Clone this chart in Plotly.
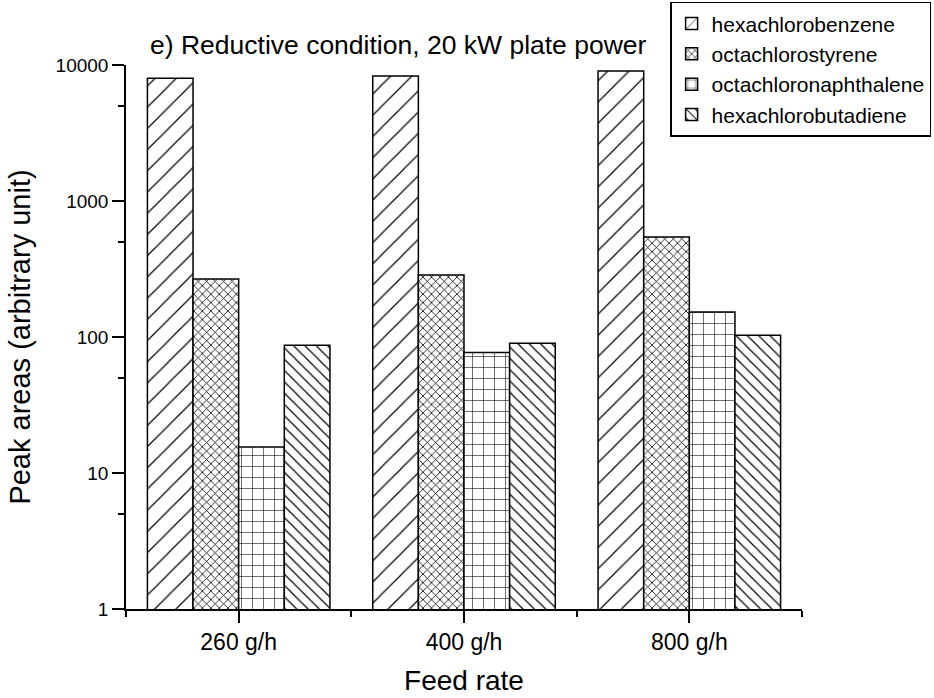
import plotly.graph_objects as go

categories = ["260 g/h", "400 g/h", "800 g/h"]
series_names = ["hexachlorobenzene", "octachlorostyrene", "octachloronaphthalene", "hexachlorobutadiene"]
hexachlorobenzene = [8000, 8300, 9050]
octachlorostyrene = [267, 286, 543]
octachloronaphthalene = [15.5, 77, 153]
hexachlorobutadiene = [87, 90, 103]
y_tick_vals = [1, 10, 100, 1000, 10000]
y_tick_text = ["1", "10", "100", "1000", "10000"]
y_minor_vals = [5, 50, 500, 5000]

values = [hexachlorobenzene, octachlorostyrene, octachloronaphthalene, hexachlorobutadiene]
patterns = [
    dict(shape="/", size=15, solidity=0.08),
    dict(shape="x", size=6, solidity=0.25),
    dict(shape="+", size=11, solidity=0.1),
    dict(shape="\\", size=8, solidity=0.15),
]
xpos = list(range(len(categories)))

fig = go.Figure()
for name, vals, pat in zip(series_names, values, patterns):
    fig.add_trace(go.Bar(
        x=xpos, y=vals, name=name,
        marker=dict(color="white",
                    line=dict(color="black", width=1.5),
                    pattern=dict(fillmode="replace", bgcolor="white", fgcolor="black", **pat)),
    ))

font_family = "Liberation Sans, Arial, sans-serif"
fig.update_layout(
    width=934, height=698,
    margin=dict(l=126, r=132, t=65, b=89, autoexpand=False),
    paper_bgcolor="white", plot_bgcolor="white",
    barmode="group", bargap=0.19, bargroupgap=0,
    font=dict(family=font_family, color="black"),
    showlegend=True,
    legend=dict(x=1.191, y=1.116, xanchor="right", yanchor="top",
                bordercolor="black", borderwidth=1.5, bgcolor="white",
                font=dict(size=21), tracegroupgap=0),
    xaxis=dict(
        tickmode="array", tickvals=xpos, ticktext=categories,
        range=[-0.5, 2.5], showline=True, linecolor="black", linewidth=1.5,
        ticks="outside", ticklen=12, tickwidth=1.5, tickcolor="black",
        tickfont=dict(size=23), showgrid=False, zeroline=False,
        minor=dict(tickmode="array", tickvals=[-0.5, 0.5, 1.5, 2.5], ticks="outside",
                   ticklen=6, tickwidth=1.5, tickcolor="black", showgrid=False),
        title=dict(text="Feed rate", font=dict(size=28), standoff=16),
    ),
    yaxis=dict(
        type="log", range=[0, 4],
        tickmode="array", tickvals=y_tick_vals, ticktext=y_tick_text,
        showline=True, linecolor="black", linewidth=1.5,
        ticks="outside", ticklen=12, tickwidth=1.5, tickcolor="black",
        tickfont=dict(size=19), showgrid=False, zeroline=False,
        minor=dict(tickmode="array", tickvals=y_minor_vals, ticks="outside",
                   ticklen=6, tickwidth=1.5, tickcolor="black", showgrid=False),
        title=dict(text="Peak areas (arbitrary unit)", font=dict(size=29), standoff=16),
    ),
    annotations=[dict(
        text="e) Reductive condition, 20 kW plate power",
        xref="paper", yref="paper", x=0.0325, y=1.005,
        xanchor="left", yanchor="bottom", showarrow=False,
        font=dict(size=26.5),
    )],
)

fig.write_html("out.html")
